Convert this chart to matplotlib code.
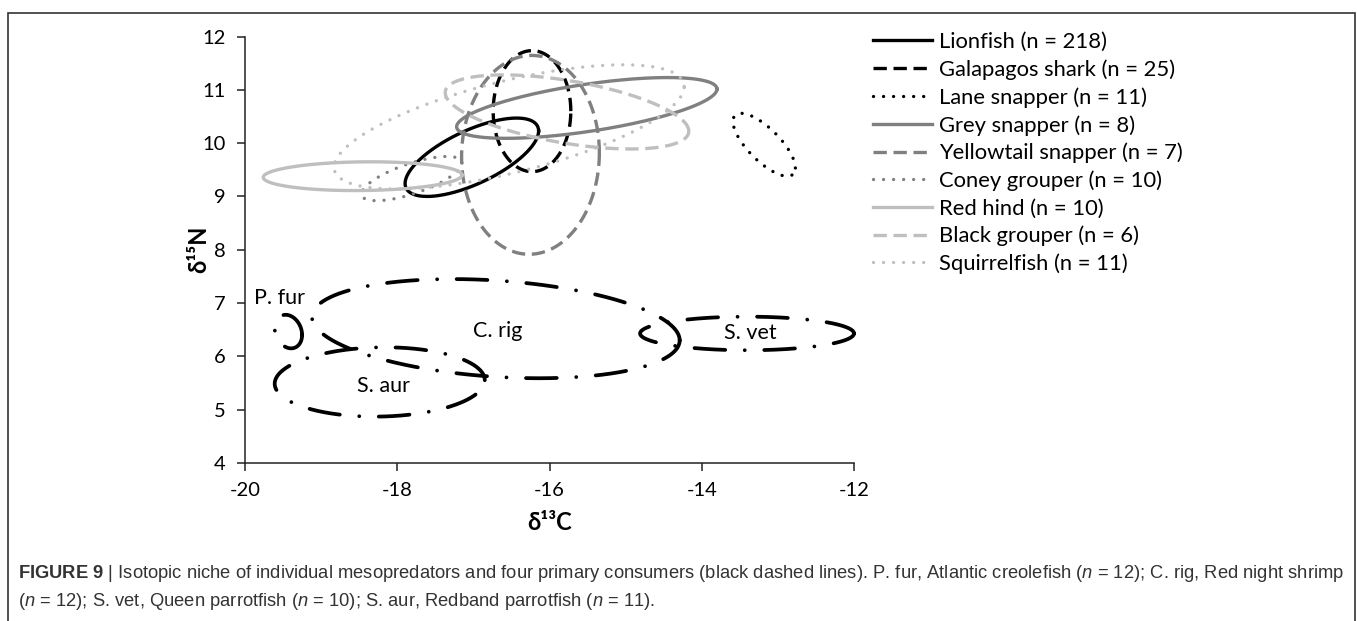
import matplotlib
matplotlib.use('Agg')
import matplotlib.pyplot as plt
import numpy as np
from matplotlib.patches import Rectangle

plt.rcParams['font.family'] = ['Lato', 'DejaVu Sans']
plt.rcParams['axes.unicode_minus'] = False
plt.rcParams['mathtext.fontset'] = 'custom'
plt.rcParams['mathtext.rm'] = 'Liberation Sans'
plt.rcParams['mathtext.it'] = 'Liberation Sans:italic'
plt.rcParams['mathtext.bf'] = 'Liberation Sans:bold'

# mesopredator niche ellipses: centre, half extent in d13C / d15N, tilt (x offset of top point / half width)
species = ['Lionfish (n = 218)', 'Galapagos shark (n = 25)', 'Lane snapper (n = 11)',
           'Grey snapper (n = 8)', 'Yellowtail snapper (n = 7)', 'Coney grouper (n = 10)',
           'Red hind (n = 10)', 'Black grouper (n = 6)', 'Squirrelfish (n = 11)']
center_c = [-17.02, -16.23, -13.18, -15.51, -16.25, -17.81, -18.455, -15.77, -16.53]
center_n = [9.735, 10.60, 9.97, 10.66, 9.78, 9.335, 9.38, 10.585, 10.305]
half_c = [0.877, 0.51, 0.41, 1.71, 0.905, 0.66, 1.305, 1.60, 2.30]
half_n = [0.735, 1.135, 0.59, 0.57, 1.865, 0.415, 0.27, 0.695, 1.165]
tilt = [0.67, 0.0, -0.74, 0.62, 0.02, 0.70, 0.08, -0.52, 0.65]

# primary consumers
consumers = ['P. fur', 'C. rig', 'S. vet', 'S. aur']
cons_c = [-19.43, -16.705, -13.405, -18.23]
cons_n = [6.465, 6.52, 6.43, 5.52]
cons_half_c = [0.18, 2.415, 1.405, 1.38]
cons_half_n = [0.315, 0.93, 0.315, 0.65]
cons_tilt = [-0.2, -0.235, 0.0, 0.05]
label_c = [-19.55, -16.68, -13.36, -18.18]
label_n = [7.1, 6.48, 6.43, 5.435]

x_ticks = [-20, -18, -16, -14, -12]
y_ticks = [4, 5, 6, 7, 8, 9, 10, 11, 12]


def ellipse(cx, cy, a, b, r):
    t = np.linspace(0, 2 * np.pi, 500)
    phi = np.arccos(r)
    return cx + a * np.cos(t), cy + b * np.cos(t - phi)


DARK = '#808080'
LIGHT = '#bfbfbf'
colors = ['black'] * 3 + [DARK] * 3 + [LIGHT] * 3
styles = ['-', (0, (4, 2)), (0, (0.01, 3))] * 3

W, H = 1357, 621
fig = plt.figure(figsize=(W / 100, H / 100), dpi=100)
ax = fig.add_axes([245 / W, 1 - 463 / H, (854 - 245) / W, (463 - 36.5) / H])

for i in range(len(species)):
    xs, ys = ellipse(center_c[i], center_n[i], half_c[i], half_n[i], tilt[i])
    ax.plot(xs, ys, color=colors[i], linestyle=styles[i], lw=2.4,
            dash_capstyle='round' if i % 3 == 2 else 'butt',
            label=species[i], clip_on=False)

for i in range(len(consumers)):
    xs, ys = ellipse(cons_c[i], cons_n[i], cons_half_c[i], cons_half_n[i], cons_tilt[i])
    ax.plot(xs, ys, color='black', linestyle=(0, (8.2, 5.2, 0.01, 5.2)), lw=2.7,
            dash_capstyle='round', clip_on=False)
    ax.text(label_c[i], label_n[i], consumers[i], ha='center', va='center', fontsize=15.5)

ax.set_xlim(-20, -12)
ax.set_ylim(4, 12)
ax.set_xticks(x_ticks)
ax.set_yticks(y_ticks)
ax.tick_params(labelsize=14.5, length=6, width=1.1, color='#222222', pad=8)
for s in ['top', 'right']:
    ax.spines[s].set_visible(False)
for s in ['left', 'bottom']:
    ax.spines[s].set_linewidth(1.1)
    ax.spines[s].set_color('#222222')

ax.set_xlabel('δ¹³C', fontsize=17, fontweight='bold', labelpad=8)
ax.set_ylabel('δ¹⁵N', fontsize=17, fontweight='bold', labelpad=-6)

ax.legend(loc='upper left', bbox_to_anchor=(873 / W, 1 - 32 / H), bbox_transform=fig.transFigure,
          frameon=False, fontsize=15.8, handlelength=2.7, handletextpad=0.3,
          labelspacing=0.33, borderpad=0, borderaxespad=0)

# figure border (open at the bottom edge)
fig.patches.append(Rectangle((8 / W, -0.05), (1355 - 8) / W, 1.05 - 12.5 / H,
                             transform=fig.transFigure, fill=False, lw=1.2,
                             edgecolor='#333333', clip_on=False))

cap = dict(fontsize=13.25, color='#333333', family=['Liberation Sans'])
fig.text(18 / W, 1 - 574 / H,
         r'$\mathbf{FIGURE\ 9}$ | Isotopic niche of individual mesopredators and four primary consumers '
         r'(black dashed lines). P. fur, Atlantic creolefish ($n$ = 12); C. rig, Red night shrimp',
         va='center', **cap)
fig.text(18 / W, 1 - 601 / H,
         r'($n$ = 12); S. vet, Queen parrotfish ($n$ = 10); S. aur, Redband parrotfish ($n$ = 11).',
         va='center', **cap)

fig.savefig('out.png', dpi=100)
